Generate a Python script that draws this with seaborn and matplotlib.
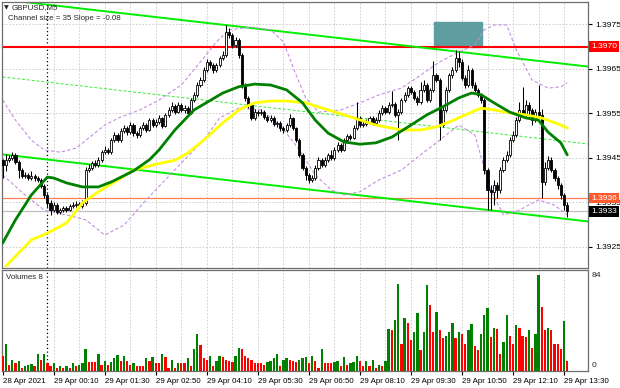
import numpy as np
import pandas as pd
import seaborn as sns
import matplotlib.pyplot as plt
from matplotlib.patches import Rectangle
from matplotlib.transforms import blended_transform_factory

# GBPUSD M5 bars, prices in points above 1.39000 (1 point = 0.00001)
base = 1.39
open0_pts = 446
close_pts = [434, 446, 450, 457, 441, 423, 410, 412, 405, 410, 405,
             401, 387, 367, 349, 333, 344, 329, 333, 338, 333,
             342, 344, 347, 342, 349, 423, 428, 439, 434, 446,
             463, 468, 463, 490, 502, 490, 511, 517, 508, 524,
             506, 502, 517, 524, 513, 535, 524, 531, 540, 522,
             547, 558, 567, 553, 569, 558, 562, 551, 580, 592,
             614, 625, 648, 666, 659, 648, 659, 675, 681, 733,
             726, 704, 715, 681, 614, 585, 569, 540, 553, 551,
             553, 542, 535, 540, 526, 529, 517, 513, 524, 540,
             517, 490, 457, 428, 412, 401, 405, 428, 446, 434,
             446, 457, 450, 468, 479, 468, 490, 499, 495, 517,
             540, 524, 526, 531, 540, 529, 535, 551, 562, 553,
             569, 571, 547, 553, 580, 592, 607, 598, 585, 576,
             603, 614, 580, 603, 636, 625, 524, 558, 603, 636,
             648, 675, 666, 630, 614, 648, 614, 603, 592, 580,
             423, 378, 374, 389, 378, 423, 446, 457, 490, 502,
             535, 558, 547, 569, 558, 535, 553, 547, 396, 428,
             446, 423, 405, 389, 367, 344, 330]
high_pts = [448,
            458, 456, 463, 462, 445, 427, 418, 416, 420, 414,
            410, 405, 392, 372, 355, 352, 348, 338, 343, 342,
            347, 352, 353, 352, 355, 430, 436, 444, 445, 452,
            468, 476, 472, 495, 508, 506, 518, 525, 521, 530,
            528, 510, 522, 530, 528, 540, 539, 537, 546, 543,
            552, 564, 575, 571, 576, 573, 568, 566, 585, 598,
            620, 632, 655, 672, 671, 663, 664, 680, 690, 749,
            742, 730, 722, 720, 685, 618, 590, 572, 560, 558,
            560, 557, 546, 546, 544, 534, 532, 522, 529, 548,
            543, 520, 494, 461, 432, 416, 412, 434, 452, 450,
            452, 462, 468, 474, 486, 484, 496, 505, 504, 523,
            575, 545, 533, 537, 545, 544, 541, 557, 568, 566,
            575, 600, 575, 560, 585, 598, 612, 612, 602, 590,
            620, 625, 618, 608, 668, 642, 630, 565, 610, 642,
            655, 692, 690, 672, 636, 660, 652, 620, 608, 596,
            585, 428, 390, 400, 395, 430, 452, 465, 497, 510,
            542, 575, 610, 580, 575, 562, 560, 614, 560, 440,
            455, 452, 428, 410, 394, 372, 350]
low_pts = [405,
           420, 440, 445, 436, 405, 405, 404, 400, 401, 398,
           396, 382, 360, 340, 322, 328, 325, 325, 329, 328,
           330, 338, 340, 337, 338, 345, 418, 424, 430, 430,
           442, 458, 458, 460, 486, 485, 487, 506, 502, 505,
           500, 496, 498, 512, 508, 510, 520, 519, 527, 518,
           519, 543, 554, 548, 550, 553, 552, 546, 548, 576,
           588, 609, 620, 644, 652, 640, 644, 655, 670, 678,
           720, 698, 700, 675, 608, 578, 562, 535, 535, 545,
           546, 537, 530, 530, 521, 520, 511, 506, 508, 520,
           512, 485, 452, 422, 400, 394, 396, 400, 424, 430,
           430, 441, 445, 446, 464, 463, 465, 486, 490, 492,
           514, 519, 519, 521, 527, 525, 524, 531, 547, 548,
           549, 565, 542, 490, 549, 575, 588, 593, 580, 570,
           572, 598, 575, 576, 598, 620, 490, 520, 554, 598,
           630, 644, 655, 625, 608, 609, 608, 598, 586, 574,
           415, 334, 333, 345, 360, 372, 418, 440, 452, 485,
           498, 530, 542, 542, 540, 525, 530, 540, 360, 390,
           422, 418, 398, 380, 358, 333, 318]
volumes = [13, 24, 5, 10, 7, 9, 3, 4, 5, 6,
           4, 15, 10, 15, 7, 4, 7, 3, 4, 3,
           4, 3, 7, 4, 5, 7, 19, 8, 8, 8,
           15, 5, 9, 5, 8, 11, 14, 9, 13, 9,
           5, 7, 4, 4, 4, 11, 9, 12, 7, 7,
           15, 12, 3, 10, 3, 7, 7, 7, 11, 4,
           19, 32, 23, 11, 10, 13, 4, 9, 13, 12,
           10, 9, 8, 13, 20, 19, 13, 11, 10, 7,
           7, 7, 5, 8, 9, 11, 15, 4, 10, 11,
           10, 9, 8, 10, 11, 12, 7, 13, 9, 3,
           19, 7, 7, 7, 8, 9, 4, 12, 5, 7,
           8, 13, 9, 4, 9, 4, 10, 3, 5, 4,
           9, 37, 36, 45, 76, 24, 46, 42, 27, 34,
           51, 18, 34, 75, 58, 34, 52, 36, 29, 31,
           34, 42, 29, 34, 32, 24, 36, 41, 22, 18,
           32, 49, 55, 30, 38, 37, 15, 25, 49, 31,
           24, 40, 38, 31, 30, 36, 20, 32, 84, 56,
           36, 38, 36, 24, 24, 19, 44, 9]

# moving averages and bands, read at a few bars
ma_green_bar = [0, 4, 9, 14, 16, 20, 25, 30, 34, 41, 46, 49, 54, 60, 69, 74, 79, 84, 89, 94,
                98, 102, 107, 112, 117, 122, 128, 133, 138, 143, 147, 150, 154, 159, 164, 168,
                171, 175, 177]
ma_green_pts = [259, 311, 367, 407, 405, 394, 385, 385, 396, 421, 446, 468, 513, 558, 596, 610,
                616, 614, 603, 574, 535, 506, 486, 481, 484, 497, 524, 547, 565, 585, 596, 592,
                574, 553, 540, 535, 508, 484, 457]
ma_yellow_bar = [1, 9, 14, 20, 25, 30, 36, 41, 48, 54, 58, 63, 69, 74, 79, 84, 89, 95, 98, 107,
                 117, 125, 131, 136, 140, 147, 150, 154, 159, 164, 169, 175, 177]
ma_yellow_pts = [207, 266, 281, 304, 349, 374, 400, 423, 436, 445, 461, 490, 529, 558, 574, 578,
                 578, 574, 567, 547, 524, 513, 513, 520, 531, 553, 562, 558, 551, 547, 540, 524,
                 517]
band_up_bar = [0, 4, 9, 13, 18, 23, 27, 32, 37, 43, 49, 56, 62, 67, 71, 78, 84, 88, 92, 95, 99,
               106, 112, 118, 125, 131, 137, 143, 148, 151, 154, 158, 161, 166, 171, 175, 177]
band_up_pts = [580, 535, 490, 468, 463, 472, 495, 524, 542, 558, 580, 614, 666, 711, 738, 744,
               738, 711, 636, 585, 553, 558, 574, 592, 607, 636, 666, 688, 704, 738, 749, 749,
               693, 625, 607, 610, 619]
band_dn_bar = [0, 7, 13, 20, 26, 32, 38, 45, 51, 57, 63, 68, 74, 81, 87, 93, 98, 103, 107, 112,
               118, 125, 131, 137, 143, 148, 153, 157, 162, 168, 173, 177]
band_dn_pts = [412, 367, 333, 322, 311, 277, 299, 356, 401, 446, 490, 540, 562, 558, 524, 468,
               412, 378, 367, 374, 401, 423, 457, 490, 524, 502, 378, 322, 333, 356, 344, 322]

# regression channel (upper / lower) at its two ends
chan_bars = [0, 184]
chan_upper = [1.39806, 1.39655]
chan_lower = [1.39458, 1.39307]

level_red = 1.3970
level_orange = 1.3936
level_bid = 1.3933
rect_bars = [135.3, 150.2]
rect_prices = [1.3970, 1.39756]

day_start_bar = 14
label_bars = [0, 16, 32, 48, 64, 80, 96, 112, 128, 144, 160, 176]
time_labels = ['28 Apr 2021', '29 Apr 00:10', '29 Apr 01:30', '29 Apr 02:50', '29 Apr 04:10',
               '29 Apr 05:30', '29 Apr 06:50', '29 Apr 08:10', '29 Apr 09:30', '29 Apr 10:50',
               '29 Apr 12:10', '29 Apr 13:30']
price_ticks = [1.3925, 1.3935, 1.3945, 1.3955, 1.3965, 1.3975]

sns.set_style('white')
plt.rcParams['font.family'] = ['Liberation Sans', 'DejaVu Sans']
fs = 5.7
fs_price = 6.1

df = pd.DataFrame({'close': np.array(close_pts) / 1e5 + base,
                   'high': np.array(high_pts) / 1e5 + base,
                   'low': np.array(low_pts) / 1e5 + base,
                   'volume': volumes})
df['bar'] = np.arange(len(df))
df['open'] = df['close'].shift(1).fillna(base + open0_pts / 1e5)
df['high'] = df[['high', 'open', 'close']].max(axis=1)
df['low'] = df[['low', 'open', 'close']].min(axis=1)

fig = plt.figure(figsize=(6.2, 3.88), dpi=100)
ax = fig.add_axes([2 / 620, 1 - 268 / 388, 586 / 620, 266 / 388])
axv = fig.add_axes([2 / 620, 1 - 371 / 388, 586 / 620, 101 / 388])

xlim = (-0.22, 183.5)
grid_kw = dict(color='#c8c8c8', lw=0.6, ls=(0, (2, 2)), zorder=0)

# main price panel
ax.set_xlim(xlim)
ax.set_ylim(1.392028, 1.398005)
for p in price_ticks:
    ax.axhline(p, **grid_kw)
for b in range(16, 184, 8):
    ax.axvline(b, **grid_kw)
    axv.axvline(b, **grid_kw)
ax.axvline(day_start_bar, color='black', lw=0.9, ls=(0, (1, 2)), zorder=1)
axv.axvline(day_start_bar, color='black', lw=0.9, ls=(0, (1, 2)), zorder=1)

ax.add_patch(Rectangle((rect_bars[0], rect_prices[0]), rect_bars[1] - rect_bars[0],
                       rect_prices[1] - rect_prices[0], color='#5f9ea0', zorder=1))
ax.axhline(level_red, color='#ff0000', lw=1.5, zorder=2)
ax.axhline(level_orange, color='#ff7f50', lw=0.9, zorder=2)
ax.axhline(level_bid, color='#c0c0c0', lw=0.9, zorder=2)

# channel
mid = [(u + l) / 2 for u, l in zip(chan_upper, chan_lower)]
sns.lineplot(x=chan_bars, y=chan_upper, ax=ax, color='#00ee00', lw=1.4, zorder=2)
sns.lineplot(x=chan_bars, y=chan_lower, ax=ax, color='#00ee00', lw=1.4, zorder=2)
sns.lineplot(x=chan_bars, y=mid, ax=ax, color='#33ee33', lw=0.7, linestyle=(0, (3, 2)), zorder=2)

# bands
band_kw = dict(color='#c58fe0', lw=0.8, linestyle=(0, (3, 2)), zorder=2)
sns.lineplot(x=band_up_bar, y=np.array(band_up_pts) / 1e5 + base, ax=ax, **band_kw)
sns.lineplot(x=band_dn_bar, y=np.array(band_dn_pts) / 1e5 + base, ax=ax, **band_kw)

# candles
up = df['close'] >= df['open']
ax.vlines(df['bar'], df['low'], df['high'], color='black', lw=0.75, zorder=3)
body = (df['close'] - df['open']).abs().clip(lower=0.000004)
ax.bar(df['bar'], body, bottom=df[['open', 'close']].min(axis=1), width=0.66,
       color=np.where(up, 'white', 'black'), edgecolor='black', linewidth=0.6, zorder=4)

# moving averages
sns.lineplot(x=ma_yellow_bar, y=np.array(ma_yellow_pts) / 1e5 + base, ax=ax,
             color='#ffff00', lw=2.0, zorder=5)
sns.lineplot(x=ma_green_bar, y=np.array(ma_green_pts) / 1e5 + base, ax=ax,
             color='#008000', lw=2.0, zorder=6)

ax.yaxis.tick_right()
ax.set_yticks(price_ticks)
ax.set_yticklabels([f'{p:.4f}' for p in price_ticks])
ax.tick_params(axis='y', labelsize=fs_price, length=3, pad=2, colors='black', right=True)
ax.set_xticks([])
ax.set_xlabel('')
ax.set_ylabel('')

tr = blended_transform_factory(ax.transAxes, ax.transData)
for lvl, bg in [(level_red, '#ff0000'), (level_orange, '#ff5a2e'), (level_bid, 'black')]:
    ax.text(1.0055, lvl, f'{lvl:.4f}', transform=tr, ha='left', va='center', fontsize=fs_price,
            color='white', zorder=10, clip_on=False,
            bbox=dict(boxstyle='square,pad=0.22', fc=bg, ec='none'))

ax.text(0.004, 0.978, '\u25bc', transform=ax.transAxes, fontsize=4.5, family='DejaVu Sans',
        va='center', ha='left')
ax.text(0.016, 0.978, 'GBPUSD,M5', transform=ax.transAxes, fontsize=fs, va='center', ha='left')
ax.text(0.011, 0.937, 'Channel size = 35 Slope = -0.08', transform=ax.transAxes,
        fontsize=fs, va='center', ha='left')

# volume panel
vol = np.array(volumes)
vcol = ['#ff0000'] + ['#008000' if vol[i] > vol[i - 1] else '#ff0000' for i in range(1, len(vol))]
axv.bar(df['bar'], vol, width=0.72, color=vcol, linewidth=0, zorder=3)
axv.set_xlim(xlim)
axv.set_ylim(0, 88.4)
axv.set_yticks([])
axv.set_xticks(label_bars)
axv.set_xticklabels(time_labels, ha='left')
axv.tick_params(axis='x', labelsize=fs, length=3, pad=2, colors='black', bottom=True)
axv.set_xlabel('')
axv.set_ylabel('')
axv.text(0.007, 0.93, 'Volumes 8', transform=axv.transAxes, fontsize=fs, va='center', ha='left')
vtr = blended_transform_factory(axv.transAxes, axv.transData)
axv.text(1.0055, 84, '84', transform=vtr, fontsize=fs_price, va='center', ha='left', clip_on=False)
axv.text(1.0055, 4.5, '0', transform=vtr, fontsize=fs_price, va='center', ha='left', clip_on=False)

for a in (ax, axv):
    for s in a.spines.values():
        s.set_color('#6e6e6e')
        s.set_linewidth(0.9)
        s.set_visible(True)

fig.savefig('out.png', dpi=100)
